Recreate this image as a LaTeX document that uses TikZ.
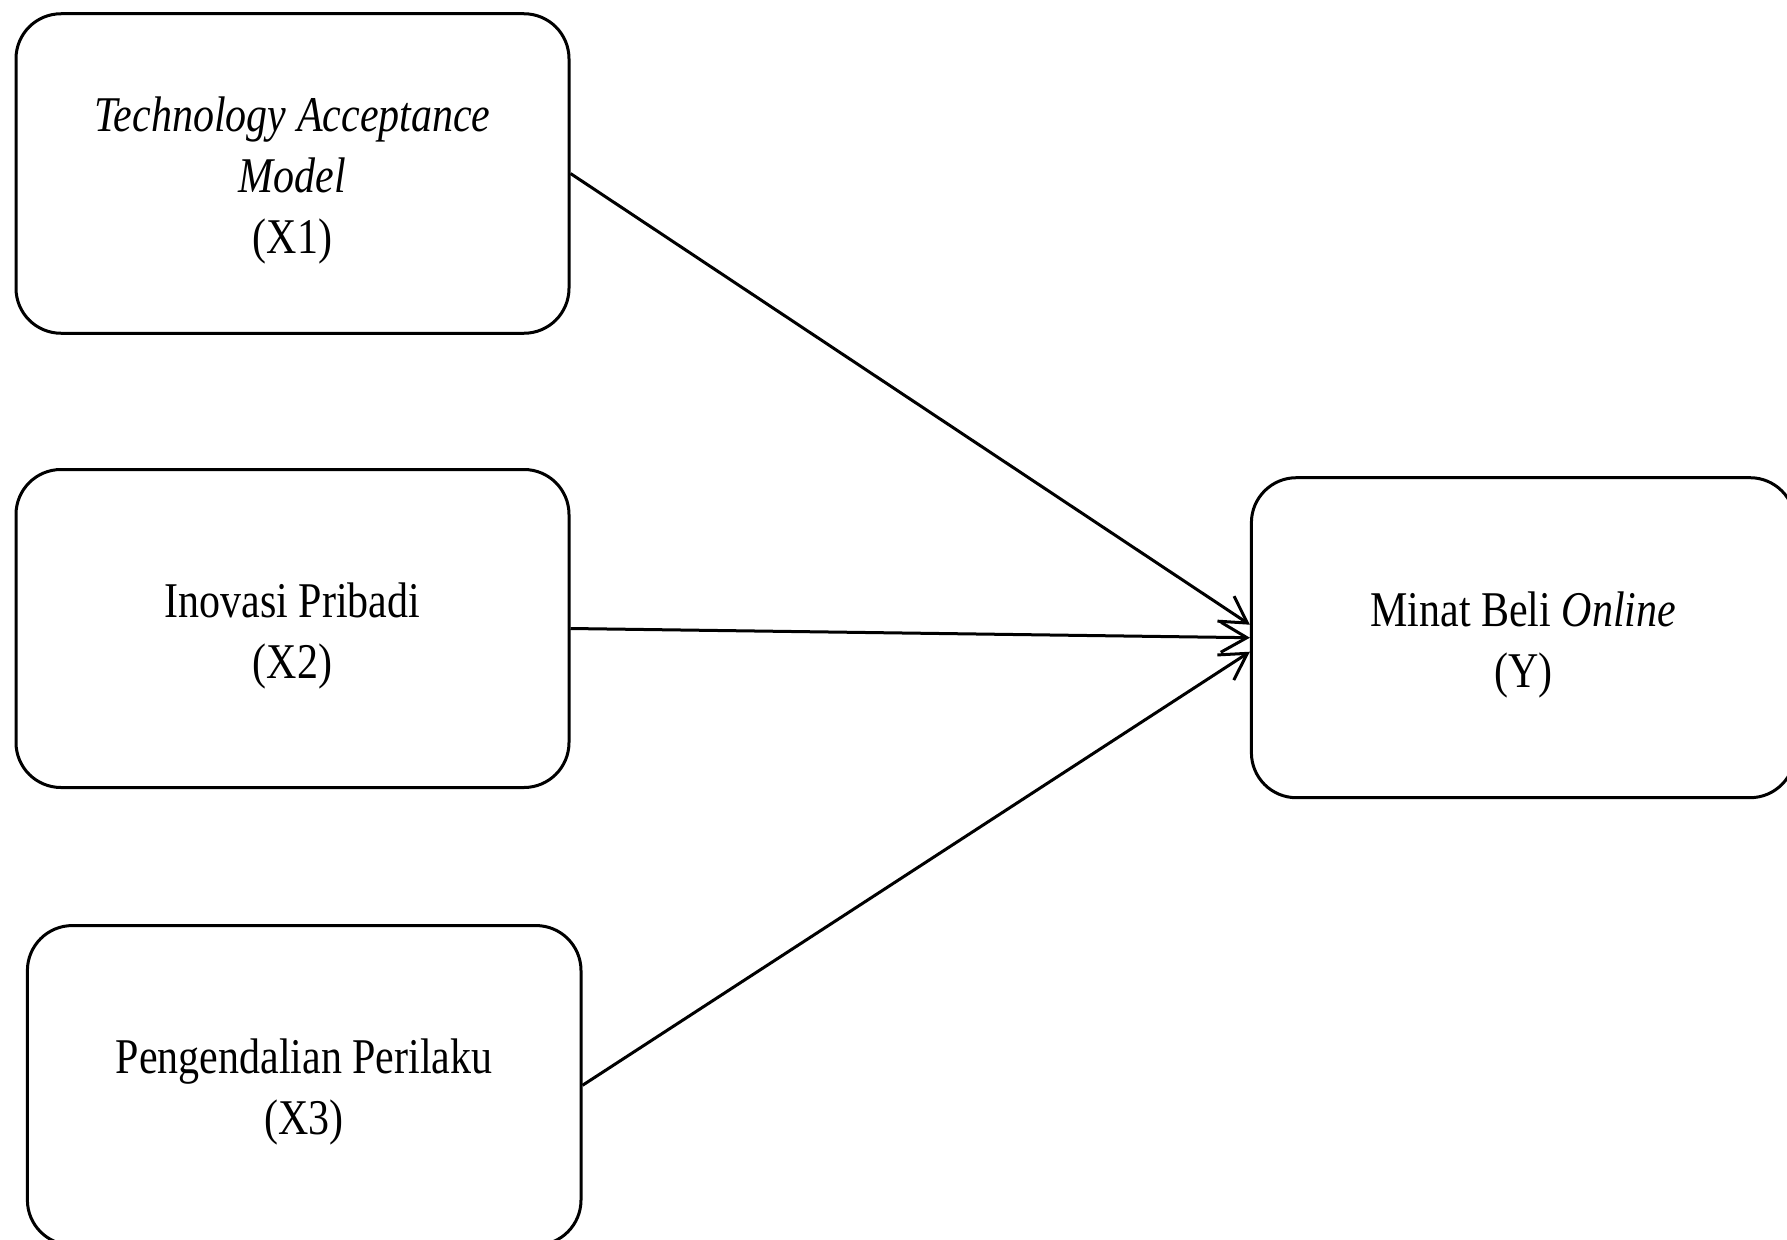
\documentclass[tikz,border=0pt]{standalone}
\usepackage{fontspec}
\setmainfont{Liberation Serif}[FakeStretch=0.84]
\usetikzlibrary{arrows.meta}
\begin{document}
\begin{tikzpicture}[x=1pt,y=-1pt,
  box/.style={draw, line width=3pt, rounded corners=45pt, inner sep=0pt},
  lbl/.style={align=center, inner sep=0pt, font=\fontsize{50}{61}\selectfont},
  arr/.style={line width=3pt, -{Straight Barb[length=26pt,width=30pt,line width=3pt]}}]
\useasboundingbox (0,0) rectangle (1787,1239);
\node[box, minimum width=553pt, minimum height=319.5pt] (x1) at (292.5,173.5) {};
\node[box, minimum width=553pt, minimum height=318pt] (x2) at (292.5,628.5) {};
\node[box, minimum width=553.6pt, minimum height=319.5pt] (x3) at (304.2,1085.3) {};
\node[box, minimum width=543.6pt, minimum height=320pt] (y) at (1523.2,637.7) {};
\node[lbl] (t1) at ([yshift=-7pt]x1.center) {\textit{Technology Acceptance}\\ \textit{Model}\\ (X1)};
\node[lbl] (t2) at ([yshift=-7pt]x2.center) {Inovasi Pribadi\\ (X2)};
\node[lbl] (t3) at ([yshift=-7pt]x3.center) {Pengendalian Perilaku\\ (X3)};
\node[lbl] (ty) at ([yshift=-7pt]y.center) {Minat Beli \textit{Online}\\ (Y)};
\draw[arr] (x1.east) -- ([yshift=13pt]y.west);
\draw[arr] (x2.east) -- (y.west);
\draw[arr] (x3.east) -- ([yshift=-14pt]y.west);
\end{tikzpicture}
\end{document}
